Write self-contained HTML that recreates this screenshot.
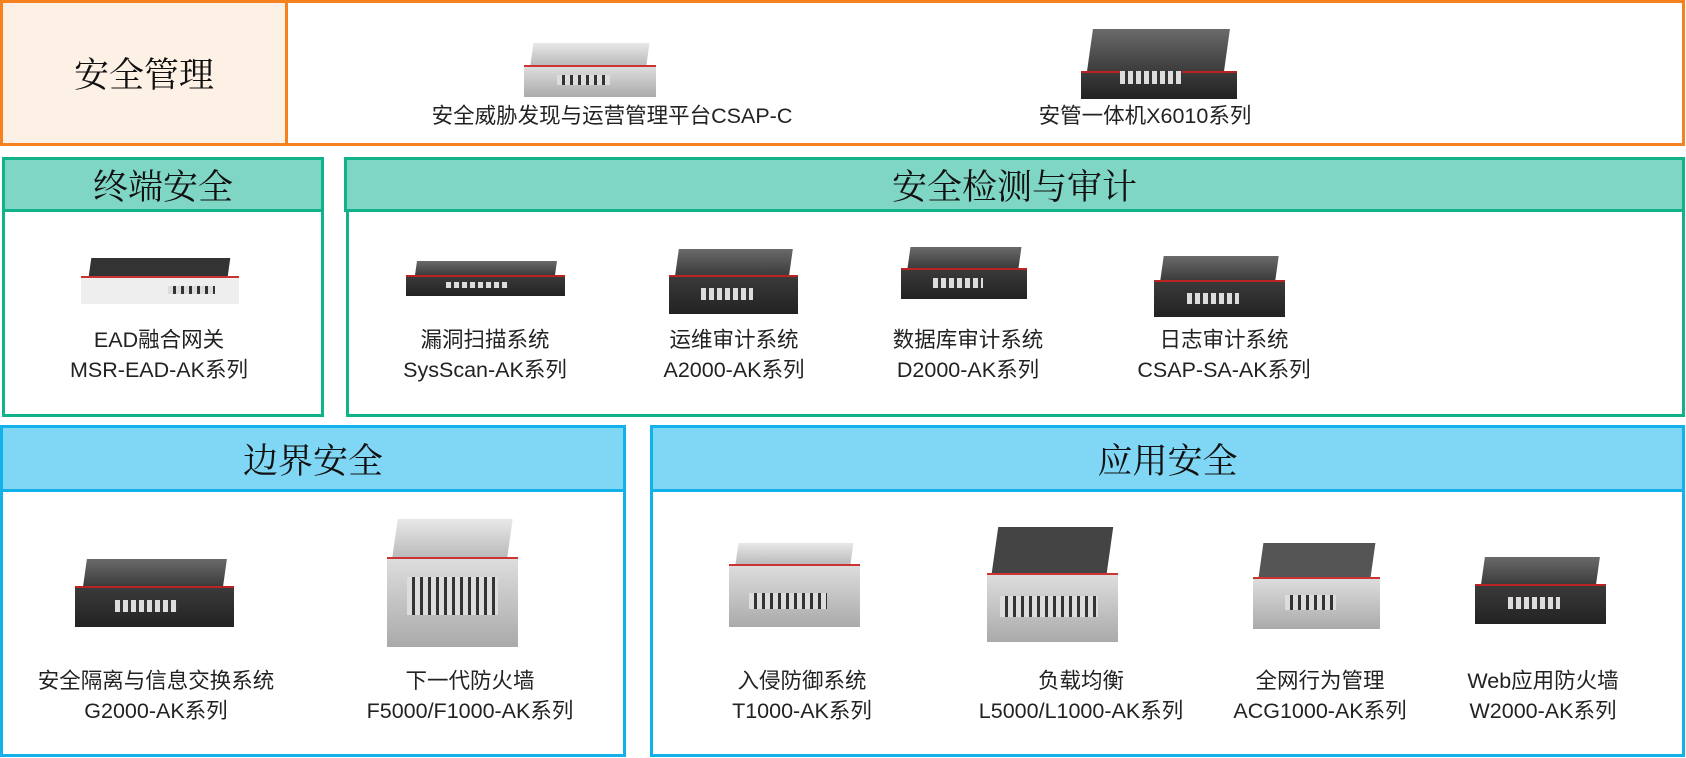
<!DOCTYPE html>
<html><head><meta charset="utf-8"><style>
body{margin:0;width:1686px;height:758px;background:#fff;position:relative;overflow:hidden;font-family:"Liberation Sans","Noto Sans CJK SC",sans-serif}
.a{position:absolute;box-sizing:border-box}
.h{font-family:"Liberation Serif","Noto Serif CJK SC",serif;font-size:35px;color:#111;display:flex;align-items:center;justify-content:center}
.g{background:#80d6c4;border:3px solid #0fb289}
.gb{border:3px solid #0fb289;border-top:none}
.b{background:#80d6f5;border:3px solid #12b1ea}
.bb{border:3px solid #12b1ea;border-top:none}
.l{position:absolute;font-size:21.5px;color:#222;text-align:center;line-height:30px;white-space:nowrap;transform:translateX(-50%)}
.d{position:absolute}
.d .t{position:absolute;left:6%;right:6%;top:0;height:40%;background:linear-gradient(#6a6a6a,#3c3c3c);transform:skewX(-8deg)}
.d .f{position:absolute;left:0;right:0;top:40%;bottom:0;background:linear-gradient(#3a3a3a,#222);border-top:2px solid #b22}
.d .p{position:absolute;left:25%;width:40%;top:60%;height:18%;background:repeating-linear-gradient(90deg,#ddd 0 5px,#333 5px 8px)}
.s .t{background:linear-gradient(#e8e8e8,#bbb)}
.s .f{background:linear-gradient(#ddd,#aaa);border-top:2px solid #c33}
</style></head><body>
<div class="a" style="left:0;top:0;width:1685px;height:146px;border:3px solid #f5821f"></div>
<div class="a h" style="left:0;top:0;width:288px;height:146px;background:#fdf0e4;border:3px solid #f5821f">安全管理</div>
<div class="d s" style="left:524px;top:43px;width:132px;height:54px"><div class="t"></div><div class="f"></div><div class="p"></div></div>
<div class="d" style="left:1081px;top:29px;width:156px;height:70px"><div class="t" style="height:60%"></div><div class="f" style="top:60%"></div><div class="p"></div></div>
<div class="l" style="left:612px;top:101px">安全威胁发现与运营管理平台CSAP-C</div>
<div class="l" style="left:1145px;top:101px">安管一体机X6010系列</div>

<div class="a h g" style="left:2px;top:157px;width:322px;height:55px">终端安全</div>
<div class="a gb" style="left:2px;top:211px;width:322px;height:206px"></div>
<div class="a h g" style="left:344px;top:157px;width:1341px;height:55px">安全检测与审计</div>
<div class="a gb" style="left:346px;top:211px;width:1339px;height:206px"></div>

<div class="d s" style="left:81px;top:258px;width:158px;height:46px"><div class="t" style="background:#333"></div><div class="f" style="background:#eee"></div><div class="p" style="left:55%;width:30%"></div></div>
<div class="l" style="left:159px;top:325px">EAD融合网关<br>MSR-EAD-AK系列</div>
<div class="d" style="left:406px;top:261px;width:159px;height:35px"><div class="t"></div><div class="f"></div><div class="p"></div></div>
<div class="l" style="left:485px;top:325px">漏洞扫描系统<br>SysScan-AK系列</div>
<div class="d" style="left:669px;top:249px;width:129px;height:65px"><div class="t"></div><div class="f"></div><div class="p"></div></div>
<div class="l" style="left:734px;top:325px">运维审计系统<br>A2000-AK系列</div>
<div class="d" style="left:901px;top:247px;width:126px;height:52px"><div class="t"></div><div class="f"></div><div class="p"></div></div>
<div class="l" style="left:968px;top:325px">数据库审计系统<br>D2000-AK系列</div>
<div class="d" style="left:1154px;top:256px;width:131px;height:61px"><div class="t"></div><div class="f"></div><div class="p"></div></div>
<div class="l" style="left:1224px;top:325px">日志审计系统<br>CSAP-SA-AK系列</div>

<div class="a h b" style="left:0;top:425px;width:626px;height:67px">边界安全</div>
<div class="a bb" style="left:0;top:490px;width:626px;height:267px"></div>
<div class="a h b" style="left:650px;top:425px;width:1035px;height:67px">应用安全</div>
<div class="a bb" style="left:650px;top:490px;width:1035px;height:267px"></div>

<div class="d" style="left:75px;top:559px;width:159px;height:68px"><div class="t"></div><div class="f"></div><div class="p"></div></div>
<div class="l" style="left:156px;top:666px">安全隔离与信息交换系统<br>G2000-AK系列</div>
<div class="d s" style="left:387px;top:519px;width:131px;height:128px"><div class="t" style="height:30%"></div><div class="f" style="top:30%"></div><div class="p" style="top:45%;height:30%;left:15%;width:70%"></div></div>
<div class="l" style="left:470px;top:666px">下一代防火墙<br>F5000/F1000-AK系列</div>
<div class="d s" style="left:729px;top:543px;width:131px;height:84px"><div class="t" style="height:25%"></div><div class="f" style="top:25%"></div><div class="p" style="width:60%;left:15%"></div></div>
<div class="l" style="left:802px;top:666px">入侵防御系统<br>T1000-AK系列</div>
<div class="d s" style="left:987px;top:527px;width:131px;height:115px"><div class="t" style="background:#444;height:40%"></div><div class="f" style="top:40%"></div><div class="p" style="left:10%;width:75%"></div></div>
<div class="l" style="left:1081px;top:666px">负载均衡<br>L5000/L1000-AK系列</div>
<div class="d s" style="left:1253px;top:543px;width:127px;height:86px"><div class="t" style="background:#555"></div><div class="f"></div><div class="p"></div></div>
<div class="l" style="left:1320px;top:666px">全网行为管理<br>ACG1000-AK系列</div>
<div class="d" style="left:1475px;top:557px;width:131px;height:67px"><div class="t"></div><div class="f"></div><div class="p"></div></div>
<div class="l" style="left:1543px;top:666px">Web应用防火墙<br>W2000-AK系列</div>
</body></html>
